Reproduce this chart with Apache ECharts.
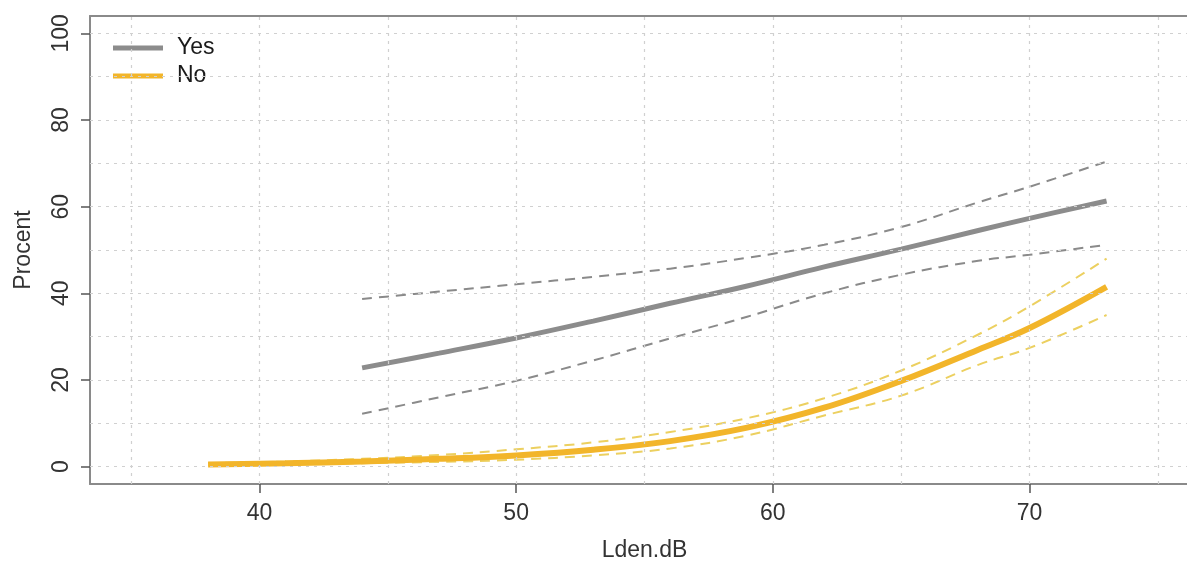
<!DOCTYPE html>
<html>
<head>
<meta charset="utf-8">
<script src="https://cdn.jsdelivr.net/npm/echarts@6/dist/echarts.min.js"></script>
<style>
html,body{margin:0;padding:0;background:#fff;}
#chart{width:1187px;height:562px;}
</style>
</head>
<body>
<div id="chart"></div>
<script>
// ---- data ----
const yesX     = [44, 47, 50, 53, 56, 59, 62, 65, 68, 70, 73];
const yesFit   = [22.8, 26.2, 29.7, 33.6, 37.7, 41.7, 46.1, 50.2, 54.5, 57.3, 61.3];
const yesUpper = [38.7, 40.4, 42.1, 43.8, 45.7, 48.2, 51.2, 55.3, 61.0, 64.6, 70.4];
const yesLower = [12.2, 16.0, 19.8, 24.5, 29.6, 34.6, 40.0, 44.3, 47.5, 48.9, 51.2];

const noX      = [38, 41, 44, 47, 50, 53, 56, 59, 62, 65, 68, 70, 73];
const noFit    = [0.5, 0.8, 1.2, 1.8, 2.6, 3.9, 5.9, 9.0, 13.6, 19.8, 27.0, 32.0, 41.5];
const noUpper  = [0.8, 1.2, 1.8, 2.7, 4.0, 5.6, 8.0, 11.2, 15.8, 22.2, 30.5, 37.0, 48.0];
const noLower  = [0.3, 0.5, 0.8, 1.1, 1.6, 2.6, 4.2, 7.2, 11.8, 16.4, 23.5, 27.4, 35.0];

const xTickLabels = [40, 50, 60, 70];
const yTickLabels = [0, 20, 40, 60, 80, 100];
const xGrid = [35, 40, 45, 50, 55, 60, 65, 70, 75];
const yGrid = [0, 10, 20, 30, 40, 50, 60, 70, 80, 90, 100];

const pairs = (xs, ys) => xs.map((x, i) => [x, ys[i]]);

const FONT = 'Liberation Sans, Arial, sans-serif';
const GRAY = '#8c8c8c';
const GOLD = '#f2b52a';
const GOLD_LIGHT = '#ecd060';

const chart = echarts.init(document.getElementById('chart'));
chart.setOption({
  animation: false,
  backgroundColor: '#ffffff',
  textStyle: { fontFamily: FONT },
  grid: {
    left: 90, top: 16, width: 1109, height: 468,
    containLabel: false, outerBoundsMode: 'none',
    show: false
  },
  legend: {
    data: ['Yes', 'No'],
    orient: 'vertical',
    left: 108, top: 31,
    itemWidth: 50, itemHeight: 5,
    itemGap: 4,
    icon: 'rect',
    textStyle: { fontFamily: FONT, fontSize: 23, color: '#1a1a1a', lineHeight: 24, padding: [0, 0, 0, 9] }
  },
  xAxis: [{
    type: 'value', min: 33.4, max: 76.6,
    name: 'Lden.dB', nameLocation: 'middle', nameGap: 55,
    nameTextStyle: { fontFamily: FONT, fontSize: 23, color: '#333' },
    axisLine: { show: true, onZero: false, lineStyle: { color: '#8a8a8a', width: 2 } },
    axisTick: { show: true, customValues: xTickLabels, length: 9, lineStyle: { color: '#555', width: 1.5 } },
    axisLabel: { customValues: xTickLabels, fontFamily: FONT, fontSize: 23, color: '#333', margin: 18 },
    splitLine: { show: false }
  }, {
    type: 'value', min: 33.4, max: 76.6, position: 'top',
    axisLine: { show: true, onZero: false, lineStyle: { color: '#8a8a8a', width: 2 } },
    axisTick: { show: false }, axisLabel: { show: false }, splitLine: { show: false }
  }],
  yAxis: {
    type: 'value', min: -4, max: 104,
    name: 'Procent', nameLocation: 'middle', nameGap: 55, nameRotate: 90,
    nameTextStyle: { fontFamily: FONT, fontSize: 23, color: '#333' },
    axisLine: { show: true, onZero: false, lineStyle: { color: '#8a8a8a', width: 2 } },
    axisTick: { show: true, customValues: yTickLabels, length: 9, lineStyle: { color: '#555', width: 1.5 } },
    axisLabel: { customValues: yTickLabels, rotate: 90, fontFamily: FONT, fontSize: 23, color: '#333', margin: 17 },
    splitLine: { show: false }
  },
  series: [
    {
      name: 'grid', type: 'line', data: [], z: 1, silent: true,
      markLine: {
        silent: true, symbol: ['none', 'none'], label: { show: false },
        lineStyle: { type: [3, 5], color: '#d0d0d0', width: 1.2 },
        emphasis: { disabled: true },
        data: xGrid.map(v => ({ xAxis: v })).concat(yGrid.map(v => ({ yAxis: v })))
      }
    },
    { name: 'Yes upper', type: 'line', data: pairs(yesX, yesUpper), smooth: 0.4, showSymbol: false, z: 3,
      lineStyle: { color: '#8a8a8a', width: 2, type: [10, 7] }, itemStyle: { color: GRAY } },
    { name: 'Yes lower', type: 'line', data: pairs(yesX, yesLower), smooth: 0.4, showSymbol: false, z: 3,
      lineStyle: { color: '#8a8a8a', width: 2, type: [10, 7] }, itemStyle: { color: GRAY } },
    { name: 'No upper', type: 'line', data: pairs(noX, noUpper), smooth: 0.4, showSymbol: false, z: 3,
      lineStyle: { color: GOLD_LIGHT, width: 2, type: [10, 7] }, itemStyle: { color: GOLD_LIGHT } },
    { name: 'No lower', type: 'line', data: pairs(noX, noLower), smooth: 0.4, showSymbol: false, z: 3,
      lineStyle: { color: GOLD_LIGHT, width: 2, type: [10, 7] }, itemStyle: { color: GOLD_LIGHT } },
    { name: 'Yes', type: 'line', data: pairs(yesX, yesFit), smooth: 0.4, showSymbol: false, z: 4,
      lineStyle: { color: GRAY, width: 5 }, itemStyle: { color: GRAY } },
    { name: 'No', type: 'line', data: pairs(noX, noFit), smooth: 0.4, showSymbol: false, z: 4,
      lineStyle: { color: GOLD, width: 6 }, itemStyle: { color: GOLD } }
  ]
});
</script>
</body>
</html>
